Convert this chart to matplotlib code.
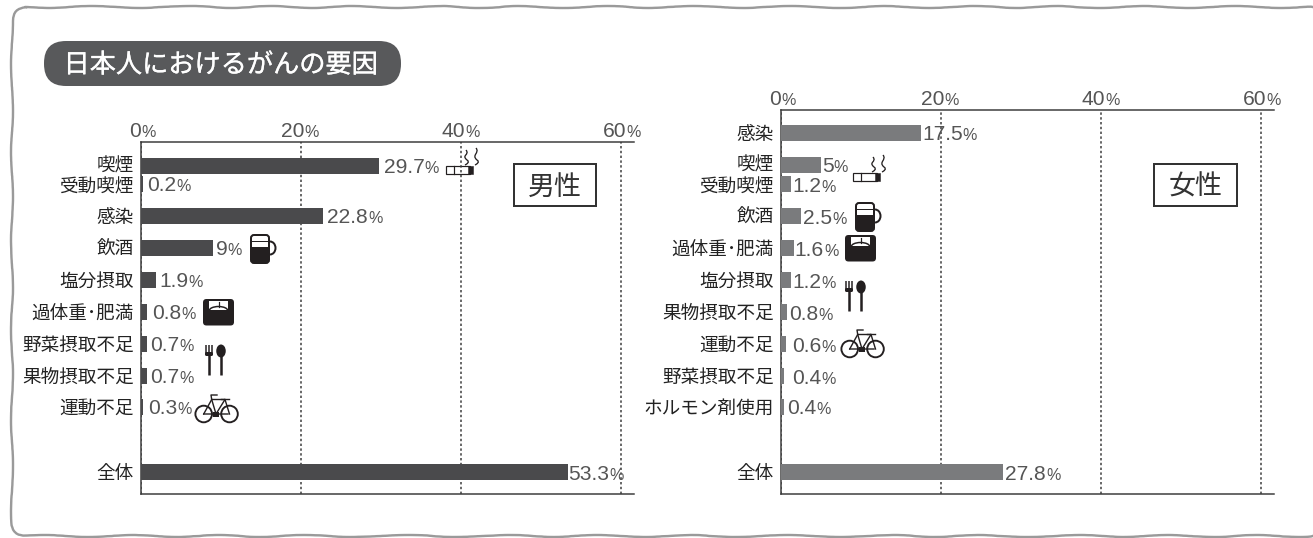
import matplotlib
matplotlib.use("Agg")
import matplotlib.pyplot as plt
import matplotlib.patheffects as pe
from matplotlib.patches import FancyBboxPatch, Rectangle, Circle, Ellipse, PathPatch, Arc
from matplotlib.path import Path
from matplotlib.transforms import ScaledTranslation

W, H = 1313, 538
plt.rcParams['font.family'] = ['Noto Sans CJK JP', 'DejaVu Sans']

title = "日本人におけるがんの要因"
tick_values = [0, 20, 40, 60]

male_labels = ["喫煙", "受動喫煙", "感染", "飲酒", "塩分摂取", "過体重･肥満",
               "野菜摂取不足", "果物摂取不足", "運動不足", "全体"]
male_values = [29.7, 0.2, 22.8, 9, 1.9, 0.8, 0.7, 0.7, 0.3, 53.3]

female_labels = ["感染", "喫煙", "受動喫煙", "飲酒", "過体重･肥満", "塩分摂取",
                 "果物摂取不足", "運動不足", "野菜摂取不足", "ホルモン剤使用", "全体"]
female_values = [17.5, 5, 1.2, 2.5, 1.6, 1.2, 0.8, 0.6, 0.4, 0.4, 27.8]

# layout (pixels from the top of the figure)
male_rows = [166, 184, 216, 248, 280, 312, 344, 376, 407, 472]
female_rows = [133, 165, 184, 216, 248, 280, 312, 344, 376, 407, 472]
male_pads = [5, 5, 4, 3, 3, 5, 4, 4, 5, 1]
female_pads = [1, 1, 2, 2, 1, 2, 2, 6, 8, 3, 2]
tick_offsets = [0, 3, 4, 5]
label_nudges = {"喫煙": 1.5, "受動喫煙": -1.5}

fig = plt.figure(figsize=(W / 72, H / 72), dpi=72, facecolor='white')
renderer = fig.canvas.get_renderer()

# background layer in pixel coordinates
bg = fig.add_axes([0, 0, 1, 1], zorder=0)
bg.set_xlim(0, W)
bg.set_ylim(H, 0)
bg.axis('off')

frame = FancyBboxPatch((12, 7), 1310, 529, boxstyle="round,pad=0,rounding_size=14",
                       fc='white', ec='#9a9a9a', lw=2.4)
frame.set_sketch_params(scale=1.0, length=110, randomness=3)
bg.add_patch(frame)

bg.add_patch(FancyBboxPatch((44, 41), 357, 45, boxstyle="round,pad=0,rounding_size=22",
                            fc='#58595b', ec='none'))
bg.text(221, 65, title, color='white', fontsize=26.2, ha='center', va='center',
        path_effects=[pe.withStroke(linewidth=0.3, foreground='white')])

for x0, x1, s in [(514, 596, "男性"), (1154, 1237, "女性")]:
    bg.add_patch(Rectangle((x0, 164), x1 - x0, 42, fc='white', ec='#333333', lw=2))
    bg.text((x0 + x1) / 2, 187, s, fontsize=27, color='#333333', ha='center', va='center')

INK = '#231f20'


def cigarette(x, y):
    bg.add_patch(Rectangle((x, y + 18), 24, 8, fc='white', ec=INK, lw=1.2))
    bg.plot([x + 8, x + 8], [y + 18, y + 26], color=INK, lw=1.2)
    bg.add_patch(Rectangle((x + 22, y + 18), 5, 8, fc=INK, ec=INK, lw=0.5))
    for dx, top in [(20, 2), (30, 0)]:
        verts = [(x + dx, y + top), (x + dx + 4, y + top + 5), (x + dx - 5, y + 7), (x + dx + 1, y + 12),
                 (x + dx + 4, y + 14), (x + dx + 1, y + 16), (x + dx - 1, y + 17)]
        codes = [Path.MOVETO] + [Path.CURVE4] * 6
        bg.add_patch(PathPatch(Path(verts, codes), fc='none', ec=INK, lw=1.3))


def beer(x, y):
    bg.add_patch(FancyBboxPatch((x + 1, y + 3), 18, 28, boxstyle="round,pad=0,rounding_size=3",
                                fc='white', ec=INK, lw=2))
    bg.add_patch(Rectangle((x + 2, y + 15), 16, 15, fc=INK, ec='none'))
    bg.add_patch(Arc((x + 20, y + 16), 11, 13, theta1=-90, theta2=90, ec=INK, lw=2))
    bg.plot([x + 2, x + 18], [y + 9, y + 9], color=INK, lw=1)


def scale_icon(x, y):
    bg.add_patch(FancyBboxPatch((x, y), 31, 26.5, boxstyle="round,pad=0,rounding_size=3.5",
                                fc=INK, ec='none'))
    bg.add_patch(Rectangle((x + 6, y + 2), 19, 9, fc='white', ec='none'))
    bg.add_patch(Arc((x + 15.5, y + 12), 19, 9, theta1=180, theta2=360, ec=INK, lw=1.5))
    bg.plot([x + 15.5, x + 15.5], [y + 3, y + 8], color=INK, lw=1.2)


def cutlery(x, y):
    for dx in (0.8, 4, 7.2):
        bg.plot([x + dx, x + dx], [y, y + 8], color=INK, lw=1.5, solid_capstyle='butt')
    bg.add_patch(FancyBboxPatch((x, y + 7), 8, 4, boxstyle="round,pad=0,rounding_size=1.5",
                                fc=INK, ec='none'))
    bg.plot([x + 4, x + 4], [y + 10, y + 30], color=INK, lw=2.5, solid_capstyle='butt')
    bg.add_patch(Ellipse((x + 16, y + 6), 9.5, 13, fc=INK, ec='none'))
    bg.plot([x + 16, x + 16], [y + 10, y + 30], color=INK, lw=2.5, solid_capstyle='butt')


def bike(x, y):
    for cx in (x + 8.7, x + 34.5):
        bg.add_patch(Circle((cx, y + 20), 8.3, fc='none', ec=INK, lw=1.9))
    frame_lines = [
        [(x + 8.7, y + 20), (x + 16.7, y + 5.5), (x + 30, y + 5.5), (x + 34.5, y + 20)],
        [(x + 8.7, y + 20), (x + 21, y + 20), (x + 30, y + 5.5)],
        [(x + 16.7, y + 5.5), (x + 21, y + 20), (x + 33, y + 20)],
        [(x + 16.7, y + 5.5), (x + 16, y + 1), (x + 22, y + 1)],
        [(x + 26, y + 5), (x + 34, y + 5)],
    ]
    for line in frame_lines:
        xs, ys = zip(*line)
        bg.plot(xs, ys, color=INK, lw=1.4)
    bg.add_patch(Rectangle((x + 18, y + 17.5), 6, 5, fc=INK, ec='none'))


cigarette(446, 148); beer(250, 232); scale_icon(203, 299); cutlery(205, 345); bike(195, 394)
cigarette(853, 155); beer(855, 200); scale_icon(845, 235); cutlery(845, 281); bike(841, 329)

NUM_FONT = 'Liberation Sans'
TXT = '#555555'


def value_text(ax, x, y, s, dx):
    t = ax.annotate(s, xy=(x, y), xytext=(dx, -7.5), textcoords='offset points', ha='left',
                    va='baseline', fontsize=21, color=TXT, family=NUM_FONT, annotation_clip=False)
    w = t.get_window_extent(renderer).width
    ax.annotate('%', xy=(x, y), xytext=(dx + w, -7.5), textcoords='offset points', ha='left',
                va='baseline', fontsize=16, color=TXT, family=NUM_FONT, annotation_clip=False)


def tick_text(ax, x, y, s, dx):
    ax.annotate(s, xy=(x, y), xytext=(dx, 5), textcoords='offset points', ha='right',
                va='baseline', fontsize=21, color=TXT, family=NUM_FONT, annotation_clip=False)
    ax.annotate('%', xy=(x, y), xytext=(dx, 5), textcoords='offset points', ha='left',
                va='baseline', fontsize=16, color=TXT, family=NUM_FONT, annotation_clip=False)


def panel(x0, top, bottom, labels, values, rows, pads, color):
    width = 493
    ax = fig.add_axes([x0 / W, 1 - bottom / H, width / W, (bottom - top) / H], zorder=2)
    ax.patch.set_alpha(0)
    ax.set_xlim(0, 61.6)
    ax.set_ylim(bottom, top)
    ax.barh(rows, values, height=16, color=color, zorder=3)
    ax.set_xticks(tick_values)
    ax.set_xticklabels([])
    ax.set_yticks(rows)
    ax.set_yticklabels(labels, fontsize=18.6, color='#222222')
    ax.tick_params(axis='both', length=0)
    ax.tick_params(axis='y', pad=7)
    for lab in ax.get_yticklabels():
        dy = label_nudges.get(lab.get_text(), 0)
        if dy:
            lab.set_transform(lab.get_transform() + ScaledTranslation(0, dy / 72, fig.dpi_scale_trans))
    ax.grid(axis='x', color='#3a3a3a', lw=1.5, linestyle=(0, (1.6, 1.6)), zorder=1)
    ax.set_axisbelow(True)
    ax.spines['right'].set_visible(False)
    for side in ('left', 'top', 'bottom'):
        ax.spines[side].set_color('#3a3a3a')
        ax.spines[side].set_linewidth(1.5)
    for v, r, p in zip(values, rows, pads):
        value_text(ax, v, r, f"{v:g}", p)
    for tv, off in zip(tick_values, tick_offsets):
        tick_text(ax, tv, top, str(tv), off)
    return ax


panel(141, 142.5, 494, male_labels, male_values, male_rows, male_pads, '#4a4a4c')
panel(781, 110, 494, female_labels, female_values, female_rows, female_pads, '#7a7b7d')

fig.savefig('out.png', dpi=72, facecolor='white')
